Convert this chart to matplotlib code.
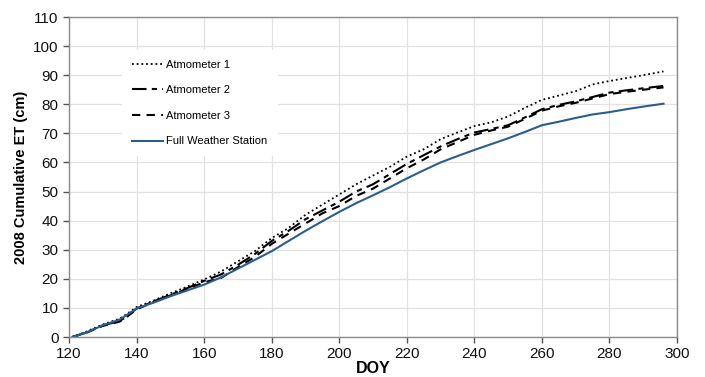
import matplotlib
matplotlib.use("Agg")
import matplotlib.pyplot as plt

plt.rcParams['font.family'] = ['Liberation Sans', 'DejaVu Sans']

# Data (cumulative ET, cm)
doy = [121, 125, 130, 135, 137, 140, 145, 150, 155, 160, 165, 170, 175, 180,
       185, 190, 195, 200, 205, 210, 215, 220, 225, 230, 235, 240, 245, 250,
       255, 260, 265, 270, 275, 280, 285, 290, 296]
atm1 = [0, 1.8, 4.3, 6.3, 7.8, 10.3, 12.5, 15, 17.3, 19.8, 22.5, 26, 29.5, 34,
        37.5, 42, 45.5, 49, 52.5, 55.5, 58.5, 62, 64.5, 68, 70.3, 72.5, 73.8,
        75.8, 78.8, 81.5, 83, 84.5, 86.8, 88, 89, 90, 91.3]
atm2 = [0, 1.5, 4, 5.5, 7, 9.8, 12.2, 14.5, 16.8, 19.3, 21.5, 24.8, 28.5, 33,
        36.5, 40.5, 43.5, 46.5, 50, 52.5, 56, 59.5, 62.5, 65.5, 68, 70.3, 71.5,
        72.8, 75.5, 78.3, 79.8, 81, 82.5, 84, 84.8, 85.5, 86.3]
atm3 = [0, 1.4, 3.8, 5.3, 6.8, 9.5, 12, 14.3, 16.5, 18.8, 20.3, 24, 27.5, 32,
        35.5, 39, 42.5, 45, 48.5, 51, 54.5, 58, 61, 64.5, 67, 69.5, 71, 72.3,
        75, 77.8, 79.3, 80.5, 82, 83.5, 84.3, 85, 85.8]
fws = [0, 1.5, 4, 6, 7.5, 9.8, 11.8, 14, 16, 18, 20.5, 23.5, 26.5, 29.5, 33,
       36.5, 39.8, 43, 46, 48.7, 51.5, 54.5, 57.3, 60, 62.2, 64.3, 66.3, 68.3,
       70.5, 72.8, 74, 75.3, 76.5, 77.3, 78.3, 79.2, 80.2]

fig = plt.figure(figsize=(7.05, 3.77), dpi=100)
ax = fig.add_axes([0.0979, 0.1061, 0.8624, 0.8488])

ax.plot(doy, atm1, color='black', lw=1.3, linestyle=(0, (1, 1.6)), label='Atmometer 1')
ax.plot(doy, atm2, color='black', lw=1.5, linestyle=(0, (7, 2.5, 2.5, 2.5)), label='Atmometer 2')
ax.plot(doy, atm3, color='black', lw=1.5, linestyle=(0, (4, 3)), label='Atmometer 3')
ax.plot(doy, fws, color='#2c5d8f', lw=1.5, label='Full Weather Station')

ax.set_xlim(120, 300)
ax.set_ylim(0, 110)
ax.set_xticks(range(120, 301, 20))
ax.set_yticks(range(0, 111, 10))
ax.grid(True, color='#e2e2e2', lw=0.9)
ax.set_axisbelow(True)
for s in ax.spines.values():
    s.set_color('#8a8a8a')
    s.set_linewidth(1.0)
ax.tick_params(axis='both', labelsize=11, colors='#555555', labelcolor='#111111',
               length=4, width=1, direction='out')

ax.set_xlabel('DOY', fontsize=11.5, fontweight='bold', labelpad=0)
ax.set_ylabel('2008 Cumulative ET (cm)', fontsize=10.5, fontweight='bold', labelpad=4)

leg = ax.legend(loc='upper left', bbox_to_anchor=(0.078, 0.915), fontsize=8,
                frameon=True, facecolor='white', edgecolor='none', framealpha=1,
                fancybox=False, handlelength=2.8, handletextpad=0.3,
                labelspacing=1.4, borderpad=0.9)

fig.savefig('out.png', dpi=100)
